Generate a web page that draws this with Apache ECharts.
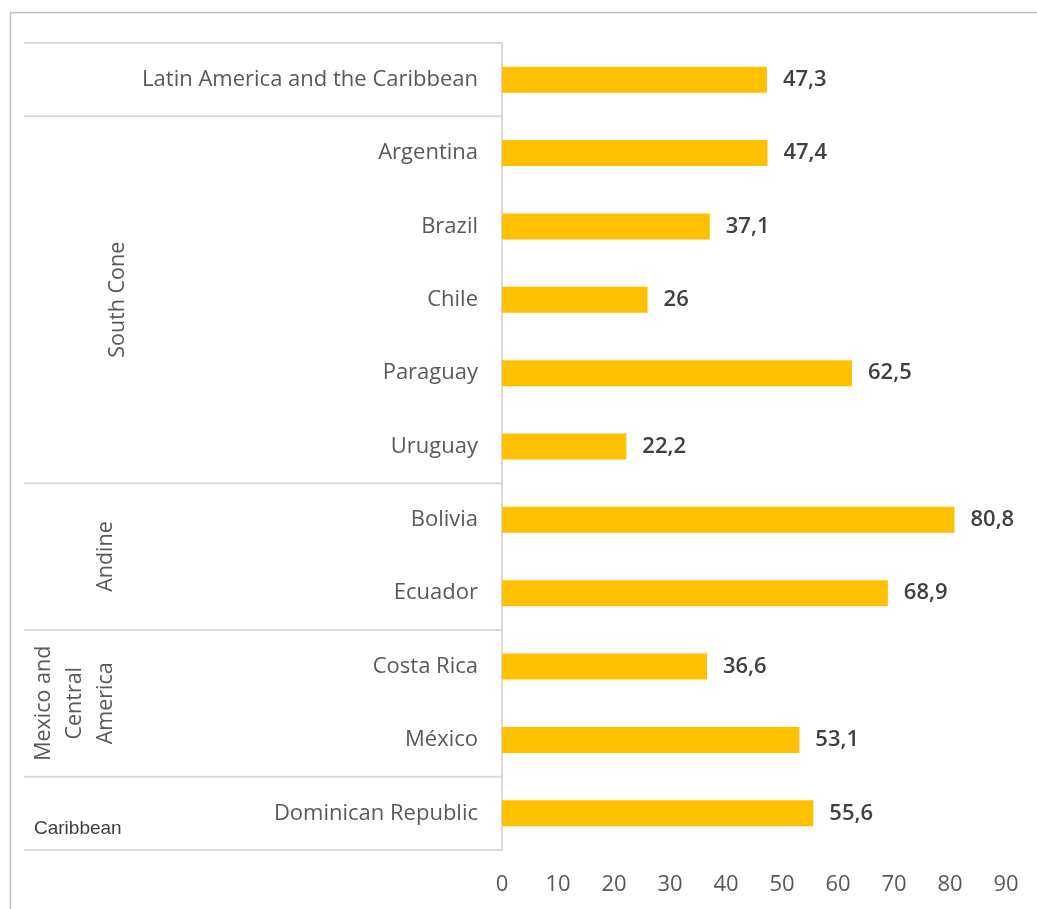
<!DOCTYPE html>
<html>
<head>
<meta charset="utf-8">
<script src="https://cdn.jsdelivr.net/npm/echarts@6/dist/echarts.min.js"></script>
<style>
  html, body { margin: 0; padding: 0; background: #fff; }
  #chart { width: 1037px; height: 909px; }
</style>
</head>
<body>
<div id="chart"></div>
<script>
// Countries (top to bottom) and their values
const countries = ['Latin America and the Caribbean', 'Argentina', 'Brazil', 'Chile', 'Paraguay', 'Uruguay',
  'Bolivia', 'Ecuador', 'Costa Rica', 'México', 'Dominican Republic'];
const values = [47.3, 47.4, 37.1, 26, 62.5, 22.2, 80.8, 68.9, 36.6, 53.1, 55.6];

// Regional groups: label and number of countries they span
const groupNames = ['', 'South Cone', 'Andine', 'Mexico and\nCentral\nAmerica', 'Caribbean'];
const groupSpans = [1, 5, 2, 2, 1];

const xTicks = [0, 90, 10]; // min, max, interval

const chart = echarts.init(document.getElementById('chart'));
const txt = '#595959';
const sepColor = '#d9d9d9';
const fam = '"Open Sans"';

const option = {
  animation: false,
  backgroundColor: '#fff',
  grid: { left: 502, right: 31, top: 43, bottom: 59 },
  xAxis: {
    type: 'value', min: xTicks[0], max: xTicks[1], interval: xTicks[2],
    axisLine: { show: false }, axisTick: { show: false }, splitLine: { show: false },
    axisLabel: { color: txt, fontSize: 22, fontFamily: fam, margin: 24 }
  },
  yAxis: {
    type: 'category', data: countries, inverse: true,
    axisLine: { show: true, lineStyle: { color: sepColor, width: 2 } },
    axisTick: { show: false },
    axisLabel: { color: txt, fontSize: 22, fontFamily: fam, margin: 24, padding: [3, 0, 0, 0] }
  },
  series: [{
    type: 'bar', data: values, barWidth: 26,
    itemStyle: { color: '#FFC000' },
    label: {
      show: true, position: 'right', distance: 16,
      color: '#404040', fontSize: 22, fontWeight: 600, fontFamily: fam,
      padding: [3, 0, 0, 0],
      formatter: p => String(p.value).replace('.', ',')
    }
  }]
};
chart.setOption(option);

// Group separators and labels, placed from the category axis positions
function drawGroups() {
  const y0 = chart.convertToPixel({ yAxisIndex: 0 }, countries[0]);
  const step = chart.convertToPixel({ yAxisIndex: 0 }, countries[1]) - y0;
  const edge = i => y0 - step / 2 + i * step; // top edge of row i
  const axisX = chart.convertToPixel({ xAxisIndex: 0 }, 0);
  const elements = [];
  // outer frame
  elements.push({ type: 'line', shape: { x1: 10, y1: 12.5, x2: 1037, y2: 12.5 }, style: { stroke: '#bfbfbf', lineWidth: 1.5 } });
  elements.push({ type: 'line', shape: { x1: 10.5, y1: 12, x2: 10.5, y2: 909 }, style: { stroke: '#bfbfbf', lineWidth: 1.5 } });
  let start = 0;
  elements.push({ type: 'line', shape: { x1: 24, y1: edge(0), x2: axisX, y2: edge(0) }, style: { stroke: sepColor, lineWidth: 2 } });
  groupSpans.forEach((span, g) => {
    const top = edge(start);
    const bottom = edge(start + span);
    elements.push({ type: 'line', shape: { x1: 24, y1: bottom, x2: axisX, y2: bottom }, style: { stroke: sepColor, lineWidth: 2 } });
    const name = groupNames[g];
    if (name) {
      if (name === 'Caribbean') {
        elements.push({ type: 'text', x: 34, y: bottom - 21, style: {
          text: name, fill: '#404040', font: '19px "Liberation Sans"', align: 'left', verticalAlign: 'middle' } });
      } else {
        const lines = name.split('\n').length;
        const cx = lines > 1 ? 75 : (name === 'Andine' ? 106 : 118);
        elements.push({ type: 'text', x: cx, y: (top + bottom) / 2, rotation: Math.PI / 2, style: {
          text: name, fill: txt, font: '21.5px ' + fam, align: 'center', verticalAlign: 'middle', lineHeight: 31 } });
      }
    }
    start += span;
  });
  chart.setOption({ graphic: { elements } });
}
drawGroups();
</script>
</body>
</html>
